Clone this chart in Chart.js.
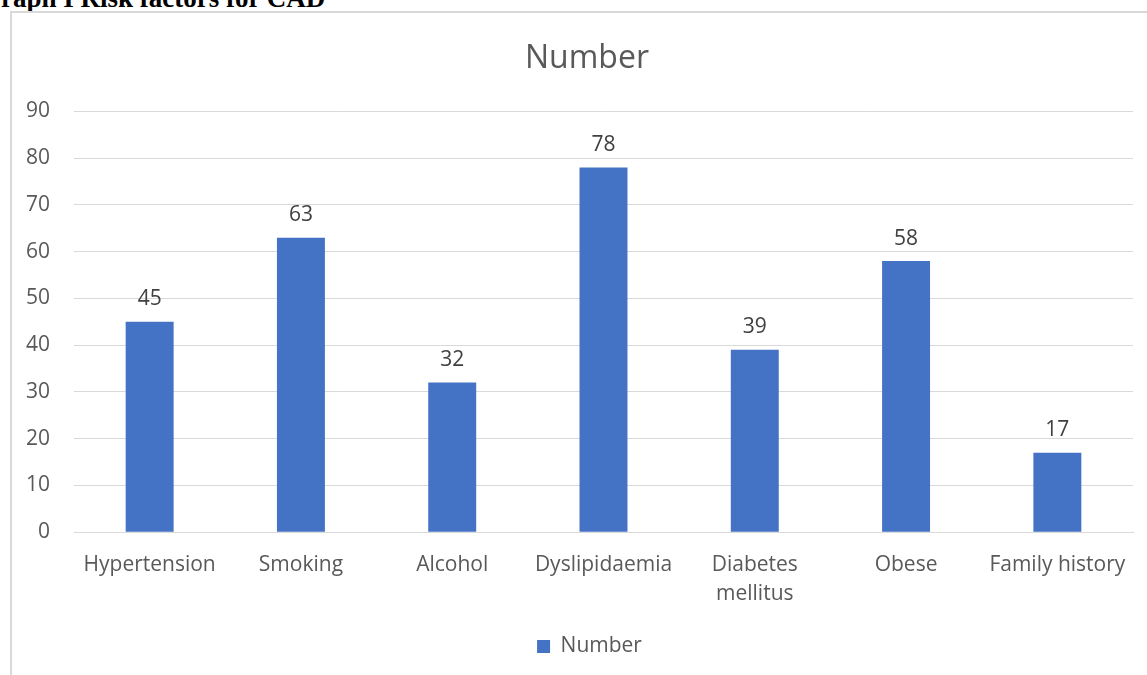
<!DOCTYPE html>
<html><head><meta charset="utf-8">
<script src="https://cdn.jsdelivr.net/npm/chart.js@4"></script>
<style>
html,body{margin:0;padding:0;background:#fff;overflow:hidden;width:1147px;height:675px;}
#hdr{position:absolute;left:-20px;top:-15px;line-height:27px;font-family:"Liberation Serif","Times New Roman",serif;font-weight:bold;font-size:27px;color:#000;white-space:nowrap;}
#box{position:absolute;left:10px;top:11px;width:1150px;height:670px;border-left:2px solid #d9d9d9;border-top:2px solid #d9d9d9;}
#wrap{position:absolute;left:12px;top:13px;width:1135px;height:662px;}
</style></head>
<body>
<div id="hdr">Graph I Risk factors for CAD</div>
<div id="box"></div>
<div id="wrap"><canvas id="c"></canvas></div>
<script>
const categories = ["Hypertension","Smoking","Alcohol","Dyslipidaemia",["Diabetes","mellitus"],"Obese","Family history"];
const values = [45,63,32,78,39,58,17];
const seriesName = "Number";
const yTicks = [0,10,20,30,40,50,60,70,80,90];

const FONT = "'Open Sans', sans-serif";
const labelPlugin = {
  id:'vals',
  afterLayout(chart){
    const t = chart.titleBlock;
    if (t) { t.left += 14.5; t.right += 14.5; }
    const l = chart.legend;
    if (l) { l.left += 17; l.right += 17; }
  },
  afterDatasetsDraw(chart){
    const ctx = chart.ctx;
    ctx.save();
    ctx.font = "21px " + FONT;
    ctx.fillStyle = "#404040";
    ctx.textAlign = "center";
    ctx.textBaseline = "bottom";
    chart.getDatasetMeta(0).data.forEach((bar,i)=>{
      ctx.fillText(String(chart.data.datasets[0].data[i]), bar.x, bar.y - 12);
    });
    ctx.restore();
  }
};
new Chart(document.getElementById('c'),{
  type:'bar',
  data:{labels:categories,datasets:[{label:seriesName,data:values,backgroundColor:'#4472c4',barPercentage:0.634,categoryPercentage:0.5}]},
  options:{
    responsive:true,maintainAspectRatio:false,animation:false,
    layout:{padding:{left:0,right:14,top:0,bottom:8}},
    plugins:{
      title:{display:true,text:seriesName,color:'#595959',font:{family:FONT,size:32,weight:'normal'},padding:{top:27,bottom:33}},
      legend:{position:'bottom',labels:{color:'#595959',font:{family:FONT,size:21},boxWidth:13,boxHeight:13,padding:17}},
      tooltip:{enabled:false}
    },
    scales:{
      x:{grid:{display:false},border:{color:'#d9d9d9'},afterFit(s){s.paddingLeft=0;s.paddingRight=0;},ticks:{color:'#595959',font:{family:FONT,size:21,lineHeight:1.4},padding:10,maxRotation:0,autoSkip:false}},
      y:{min:0,max:90,afterBuildTicks(ax){ax.ticks=yTicks.map(v=>({value:v}));},afterFit(s){s.width=62;},grid:{color:'#d9d9d9',drawTicks:false},border:{display:false},ticks:{color:'#595959',font:{family:FONT,size:21},padding:24}}
    }
  },
  plugins:[labelPlugin]
});
</script>
</body></html>
